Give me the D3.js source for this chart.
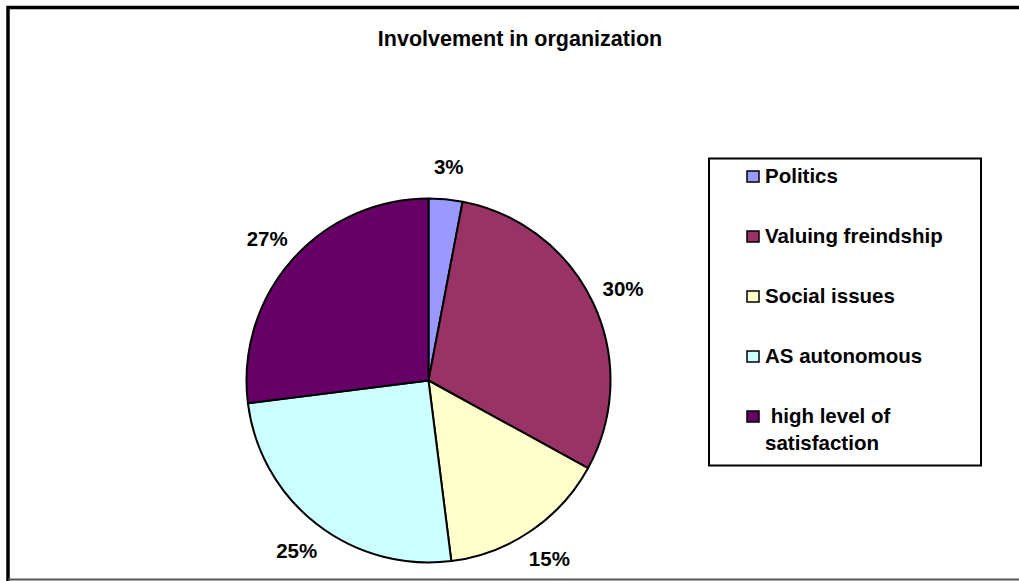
<!DOCTYPE html>
<html>
<head>
<meta charset="utf-8">
<script src="https://cdn.jsdelivr.net/npm/d3@7"></script>
<style>
  html, body { margin: 0; padding: 0; background: #fff; }
  svg { display: block; font-family: Arial, "Liberation Sans", sans-serif; }
</style>
</head>
<body>
<svg id="chart" width="1019" height="581"></svg>
<script>
// Survey shares, in percent
const categories = ["Politics", "Valuing freindship", "Social issues", "AS autonomous", " high level of satisfaction"];
const values = [3, 30, 15, 25, 27];
const colors = ["#9999FF", "#993366", "#FFFFCC", "#CCFFFF", "#660066"];
const legendLines = [["Politics"], ["Valuing freindship"], ["Social issues"], ["AS autonomous"], [" high level of", "satisfaction"]];
const title = "Involvement in organization";

const svg = d3.select("#chart");
const W = 1019, H = 581;

// chart frame
svg.append("path")
  .attr("d", `M1030,7.5 H8 V581`)
  .attr("fill", "none").attr("stroke", "#000").attr("stroke-width", 3.5);
svg.append("line")
  .attr("x1", 8).attr("x2", W).attr("y1", 579.5).attr("y2", 579.5)
  .attr("stroke", "#555").attr("stroke-width", 2);

// title
svg.append("text")
  .attr("x", 520).attr("y", 46)
  .attr("text-anchor", "middle")
  .attr("font-size", 21.5).attr("font-weight", "bold")
  .text(title);

// pie
const cx = 428.5, cy = 380.5, R = 182;
const pie = d3.pie().sort(null).value(d => d)
  .startAngle(0).endAngle(2 * Math.PI);
const arcs = pie(values);
const arc = d3.arc().innerRadius(0).outerRadius(R);
const g = svg.append("g").attr("transform", `translate(${cx},${cy})`);

g.selectAll("path.slice")
  .data(arcs)
  .join("path")
  .attr("class", "slice")
  .attr("d", arc)
  .attr("fill", (d, i) => colors[i])
  .attr("stroke", "#000")
  .attr("stroke-width", 2)
  .attr("stroke-linejoin", "round");

// percentage labels outside the slices
const labelArc = d3.arc().innerRadius(215).outerRadius(215);
g.selectAll("text.pct")
  .data(arcs)
  .join("text")
  .attr("class", "pct")
  .attr("transform", d => {
    const [x, y] = labelArc.centroid(d);
    return `translate(${x},${y})`;
  })
  .attr("text-anchor", "middle")
  .attr("dy", "0.36em")
  .attr("font-size", 20.5).attr("font-weight", "bold")
  .text(d => Math.round(d.value) + "%");

// legend
const lg = svg.append("g");
lg.append("rect")
  .attr("x", 709).attr("y", 158.5)
  .attr("width", 272).attr("height", 307)
  .attr("fill", "#fff").attr("stroke", "#000").attr("stroke-width", 2);

const rowY = d3.scalePoint().domain(d3.range(categories.length)).range([183, 423]);
const items = lg.selectAll("g.item")
  .data(categories)
  .join("g")
  .attr("class", "item")
  .attr("transform", (d, i) => `translate(0,${rowY(i)})`);

items.append("rect")
  .attr("x", 747).attr("y", -12)
  .attr("width", 12).attr("height", 11)
  .attr("fill", (d, i) => colors[i])
  .attr("stroke", "#000").attr("stroke-width", 1.5);

items.append("text")
  .attr("x", 765)
  .attr("font-size", 20.5).attr("font-weight", "bold")
  .attr("xml:space", "preserve")
  .style("white-space", "pre")
  .each(function(d, i) {
    const t = d3.select(this);
    legendLines[i].forEach((line, k) => {
      t.append("tspan")
        .attr("x", 765)
        .attr("dy", k === 0 ? 0 : 27)
        .text(line);
    });
  });
</script>
</body>
</html>
